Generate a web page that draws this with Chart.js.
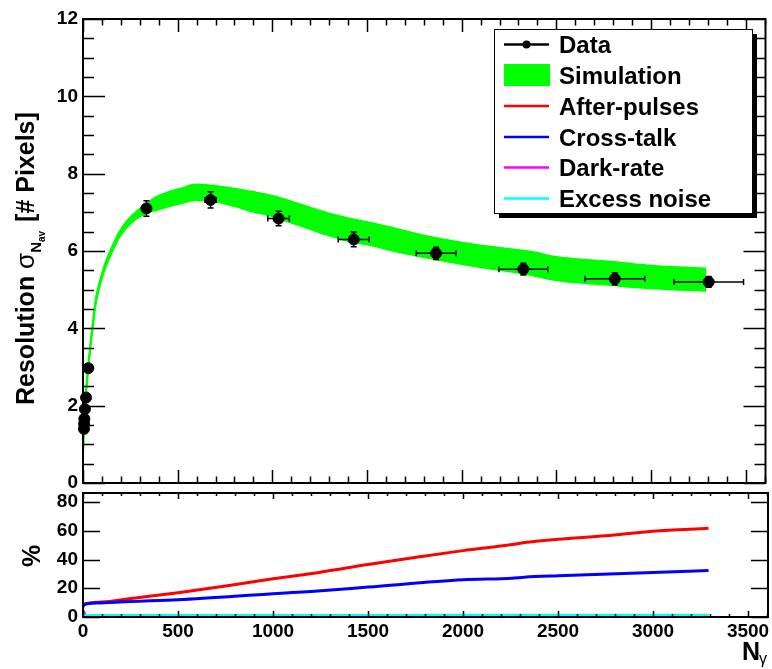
<!DOCTYPE html>
<html lang="en">
<head>
<meta charset="UTF-8">
<title>Resolution vs N_gamma</title>
<script src="https://cdn.jsdelivr.net/npm/chart.js@4"></script>
<style>
  * { margin: 0; padding: 0; box-sizing: border-box; }
  body { background: #fff; width: 772px; height: 669px; position: relative; overflow: hidden; }
  canvas { position: absolute; left: 0; }
  #cTop { top: 0; }
  #cBot { top: 489px; }
</style>
</head>
<body>
<canvas id="cTop" width="772" height="500"></canvas>
<canvas id="cBot" width="772" height="180"></canvas>
<script>
// ---- measured data points (top panel)
const dataN    = [5, 6, 7, 10, 16, 28, 335, 674, 1033, 1430, 1865, 2326, 2809, 3305];
const dataRes  = [1.40, 1.53, 1.66, 1.91, 2.21, 2.97, 7.10, 7.32, 6.84, 6.30, 5.94, 5.53, 5.28, 5.20];
const dataErrN = [0, 0, 0, 0, 0, 0, 15, 30, 57, 82, 105, 129, 158, 184];
const dataErrR = [0, 0, 0, 0, 0, 0, 0.20, 0.21, 0.19, 0.19, 0.16, 0.15, 0.16, 0.14];

// ---- simulation band (lower / upper edge)
const simN  = [0, 2, 5, 10, 16, 22, 30, 40, 50, 68, 89, 116, 151, 195, 237, 283, 335, 388, 450, 520, 598, 700, 800, 896, 1000, 1107, 1200, 1282, 1388, 1546, 1616, 1791, 2089, 2368, 2493, 2791, 3019, 3291];
const simLo = [0.70, 1.00, 1.38, 1.92, 2.32, 2.66, 3.05, 3.55, 3.95, 4.65, 5.10, 5.54, 5.95, 6.38, 6.64, 6.84, 6.98, 7.06, 7.15, 7.24, 7.32, 7.28, 7.16, 7.02, 6.90, 6.72, 6.57, 6.43, 6.28, 6.12, 6.03, 5.85, 5.59, 5.38, 5.25, 5.12, 5.03, 4.97];
const simHi = [0.78, 1.08, 1.46, 2.00, 2.42, 2.76, 3.15, 3.65, 4.07, 4.77, 5.22, 5.66, 6.08, 6.52, 6.80, 7.02, 7.22, 7.40, 7.52, 7.62, 7.72, 7.68, 7.61, 7.53, 7.42, 7.27, 7.12, 6.99, 6.86, 6.70, 6.62, 6.41, 6.15, 5.98, 5.85, 5.72, 5.61, 5.55];

// ---- contributions (bottom panel, %)
const apN   = [0, 5, 100, 243, 500, 760, 1000, 1250, 1500, 1754, 2000, 2258, 2300, 2323, 2500, 2750, 3000, 3292];
const apVal = [8.3, 9.0, 10.4, 12.7, 16.9, 21.7, 26.6, 31.2, 36.5, 41.6, 46.2, 50.4, 51.3, 51.8, 54.1, 56.6, 59.7, 61.7];
const ctN   = [0, 5, 30, 88, 250, 500, 1000, 1100, 1200, 1500, 2000, 2258, 2323, 2500, 3000, 3292];
const ctVal = [7.0, 8.3, 9.3, 9.8, 10.8, 12.0, 16.2, 17.0, 17.8, 20.8, 25.9, 27.0, 27.7, 28.7, 31.0, 32.4];
const drN   = [0, 5, 10, 20, 40, 100, 1000, 3292];
const drVal = [4.5, 3.0, 1.5, 0.6, 0.3, 0.2, 0.15, 0.1];
const enN   = [0, 500, 1500, 2500, 3292];
const enVal = [1.0, 1.0, 1.1, 1.2, 1.3];

// ---- axes
const xTicks    = [0, 500, 1000, 1500, 2000, 2500, 3000, 3500];
const yTicksTop = [0, 2, 4, 6, 8, 10, 12];
const yTicksBot = [0, 20, 40, 60, 80];
const legendLabels = ['Data', 'Simulation', 'After-pulses', 'Cross-talk', 'Dark-rate', 'Excess noise'];

const FONT = "'Liberation Sans', Arial, Helvetica, sans-serif";
Chart.defaults.font.family = FONT;
Chart.defaults.color = '#000';

const pts = (xs, ys) => xs.map((x, i) => ({ x, y: ys[i] }));
const fixTicks = list => s => { s.ticks = list.map(v => ({ value: v })); };
const noPadY = w => s => { s.width = w; s.paddingTop = 0; s.paddingBottom = 0; };
const noPadX = h => s => { s.height = h; s.paddingLeft = 0; s.paddingRight = 0; };

// inward ROOT-style ticks on all four sides + frame
const frameTicks = {
  id: 'frameTicks',
  afterDatasetsDraw(chart, args, o) {
    const { ctx, chartArea: a, scales: { x, y } } = chart;
    ctx.save();
    ctx.strokeStyle = '#000';
    ctx.lineWidth = 1.5;
    ctx.beginPath();
    for (let i = 0; i * o.xMinor <= x.max; i++) {
      const px = Math.round(x.getPixelForValue(i * o.xMinor)) + 0.5;
      const len = i % o.xEvery === 0 ? o.xMaj : o.xMin;
      ctx.moveTo(px, a.bottom); ctx.lineTo(px, a.bottom - len);
      ctx.moveTo(px, a.top);    ctx.lineTo(px, a.top + len);
    }
    for (let i = 0; i * o.yMinor <= y.max; i++) {
      const py = Math.round(y.getPixelForValue(i * o.yMinor)) + 0.5;
      const len = i % o.yEvery === 0 ? o.yMaj : o.yMin;
      ctx.moveTo(a.left, py);  ctx.lineTo(a.left + len, py);
      ctx.moveTo(a.right, py); ctx.lineTo(a.right - len, py);
    }
    ctx.stroke();
    ctx.lineWidth = 2;
    ctx.strokeRect(a.left, a.top, a.right - a.left, a.bottom - a.top);
    ctx.restore();
  }
};

const errorBars = {
  id: 'errorBars',
  afterDatasetsDraw(chart) {
    const { ctx, scales: { x, y } } = chart;
    ctx.save();
    ctx.strokeStyle = '#000';
    ctx.lineWidth = 1.5;
    ctx.beginPath();
    dataN.forEach((n, i) => {
      const px = x.getPixelForValue(n), py = y.getPixelForValue(dataRes[i]);
      if (dataErrN[i]) {
        const l = x.getPixelForValue(n - dataErrN[i]), r = x.getPixelForValue(n + dataErrN[i]);
        ctx.moveTo(l, py); ctx.lineTo(r, py);
        ctx.moveTo(l, py - 3); ctx.lineTo(l, py + 3);
        ctx.moveTo(r, py - 3); ctx.lineTo(r, py + 3);
      }
      if (dataErrR[i]) {
        const t = y.getPixelForValue(dataRes[i] + dataErrR[i]), b = y.getPixelForValue(dataRes[i] - dataErrR[i]);
        ctx.moveTo(px, t); ctx.lineTo(px, b);
        ctx.moveTo(px - 3, t); ctx.lineTo(px + 3, t);
        ctx.moveTo(px - 3, b); ctx.lineTo(px + 3, b);
      }
    });
    ctx.stroke();
    ctx.restore();
  }
};

const legendBox = {
  id: 'legendBox',
  afterDraw(chart) {
    const ctx = chart.ctx;
    const L = 494, T = 29, W = 258, H = 184;
    const rows = [44.5, 75, 106, 137, 167.5, 198.5];
    const colors = ['#000', '#00ff00', '#ff0000', '#0000ff', '#ff00ff', '#00ffff'];
    ctx.save();
    ctx.fillStyle = '#000';
    ctx.fillRect(L + 5, T + 5, W, H);
    ctx.fillStyle = '#fff';
    ctx.fillRect(L, T, W, H);
    ctx.strokeStyle = '#000';
    ctx.lineWidth = 1;
    ctx.strokeRect(L + 0.5, T + 0.5, W, H);
    ctx.font = 'bold 24px ' + FONT;
    ctx.textBaseline = 'alphabetic';
    legendLabels.forEach((lab, i) => {
      const ry = rows[i];
      if (i === 1) {
        ctx.fillStyle = colors[i];
        ctx.fillRect(504, ry - 11, 46, 22);
      } else {
        ctx.strokeStyle = colors[i];
        ctx.lineWidth = 2.5;
        ctx.beginPath(); ctx.moveTo(504, ry); ctx.lineTo(549, ry); ctx.stroke();
        if (i === 0) {
          ctx.fillStyle = '#000';
          ctx.beginPath(); ctx.arc(526.5, ry, 4, 0, Math.PI * 2); ctx.fill();
        }
      }
      ctx.fillStyle = '#000';
      ctx.fillText(lab, 559, ry + 8.5);
    });
    ctx.restore();
  }
};

// y title of the top panel: Resolution σ_{N_av} [# Pixels]
const topTitle = {
  id: 'topTitle',
  afterDraw(chart) {
    const ctx = chart.ctx;
    ctx.save();
    ctx.translate(34, 405);
    ctx.rotate(-Math.PI / 2);
    ctx.fillStyle = '#000';
    ctx.textBaseline = 'alphabetic';
    let x = 0;
    const put = (txt, font, dy) => { ctx.font = font; ctx.fillText(txt, x, dy); x += ctx.measureText(txt).width; };
    put('Resolution ', 'bold 25px ' + FONT, 0);
    put('\u03c3', '26px ' + FONT, 0);
    put('N', 'bold 15px ' + FONT, 7);
    put('av', 'bold 10px ' + FONT, 11);
    x += 2;
    put(' [# Pixels]', 'bold 25px ' + FONT, 0);
    ctx.restore();
  }
};

const botTitles = {
  id: 'botTitles',
  afterDraw(chart) {
    const ctx = chart.ctx;
    ctx.save();
    ctx.fillStyle = '#000';
    ctx.textBaseline = 'alphabetic';
    ctx.save();
    ctx.translate(40, 567 - 489);
    ctx.rotate(-Math.PI / 2);
    ctx.font = 'bold 25px ' + FONT;
    ctx.fillText('%', 0, 0);
    ctx.restore();
    ctx.font = 'bold 25px ' + FONT;
    ctx.fillText('N', 742, 660 - 489);
    ctx.font = '16px ' + FONT;
    ctx.fillText('\u03b3', 759, 664 - 489);
    ctx.restore();
  }
};

const tickFont = { size: 19, weight: 'bold' };
const noGrid = { display: false, drawTicks: false };

new Chart(document.getElementById('cTop'), {
  type: 'line',
  data: {
    datasets: [
      { data: pts(simN, simLo), order: 2, borderColor: '#00ff00', borderWidth: 2, pointRadius: 0, fill: false, cubicInterpolationMode: 'monotone' },
      { data: pts(simN, simHi), order: 1, borderColor: '#00ff00', borderWidth: 2, pointRadius: 0, fill: '-1', backgroundColor: '#00ff00', cubicInterpolationMode: 'monotone' },
      { data: pts(dataN, dataRes), order: 0, showLine: false, clip: false, pointStyle: 'circle', pointRadius: 5.5, pointBackgroundColor: '#000', pointBorderColor: '#000', pointBorderWidth: 1 }
    ]
  },
  options: {
    responsive: false,
    animation: false,
    events: [],
    layout: { padding: { top: 19, right: 4, left: 0, bottom: 0 } },
    plugins: {
      legend: { display: false },
      tooltip: { enabled: false },
      frameTicks: { xMinor: 100, xEvery: 5, xMaj: 13, xMin: 6.5, yMinor: 0.5, yEvery: 4, yMaj: 22, yMin: 11 }
    },
    scales: {
      x: {
        type: 'linear', min: 0, max: 3605,
        grid: noGrid, border: { display: false },
        ticks: { display: false },
        afterFit: noPadX(17)
      },
      y: {
        min: 0, max: 12,
        grid: noGrid, border: { display: false },
        afterBuildTicks: fixTicks(yTicksTop),
        ticks: { font: tickFont, color: '#000', padding: 5 },
        afterFit: noPadY(83)
      }
    }
  },
  plugins: [errorBars, frameTicks, legendBox, topTitle]
});

const lineDs = (xs, ys, c) => ({ data: pts(xs, ys), borderColor: c, borderWidth: 3, pointRadius: 0, fill: false, cubicInterpolationMode: 'monotone' });

new Chart(document.getElementById('cBot'), {
  type: 'line',
  data: {
    datasets: [
      lineDs(enN, enVal, '#00ffff'),
      lineDs(drN, drVal, '#ff00ff'),
      lineDs(ctN, ctVal, '#0000ff'),
      lineDs(apN, apVal, '#ff0000')
    ]
  },
  options: {
    responsive: false,
    animation: false,
    events: [],
    layout: { padding: { top: 4, right: 4, left: 0, bottom: 0 } },
    plugins: {
      legend: { display: false },
      tooltip: { enabled: false },
      frameTicks: { xMinor: 100, xEvery: 5, xMaj: 6, xMin: 3, yMinor: 20, yEvery: 1, yMaj: 17, yMin: 17 }
    },
    scales: {
      x: {
        type: 'linear', min: 0, max: 3605,
        grid: noGrid, border: { display: false },
        afterBuildTicks: fixTicks(xTicks),
        ticks: { font: tickFont, color: '#000', padding: 3, maxRotation: 0, autoSkip: false, callback: v => String(v) },
        afterFit: noPadX(52)
      },
      y: {
        min: 0, max: 86.3,
        grid: noGrid, border: { display: false },
        afterBuildTicks: fixTicks(yTicksBot),
        ticks: { font: tickFont, color: '#000', padding: 5 },
        afterFit: noPadY(83)
      }
    }
  },
  plugins: [frameTicks, botTitles]
});
</script>
</body>
</html>
